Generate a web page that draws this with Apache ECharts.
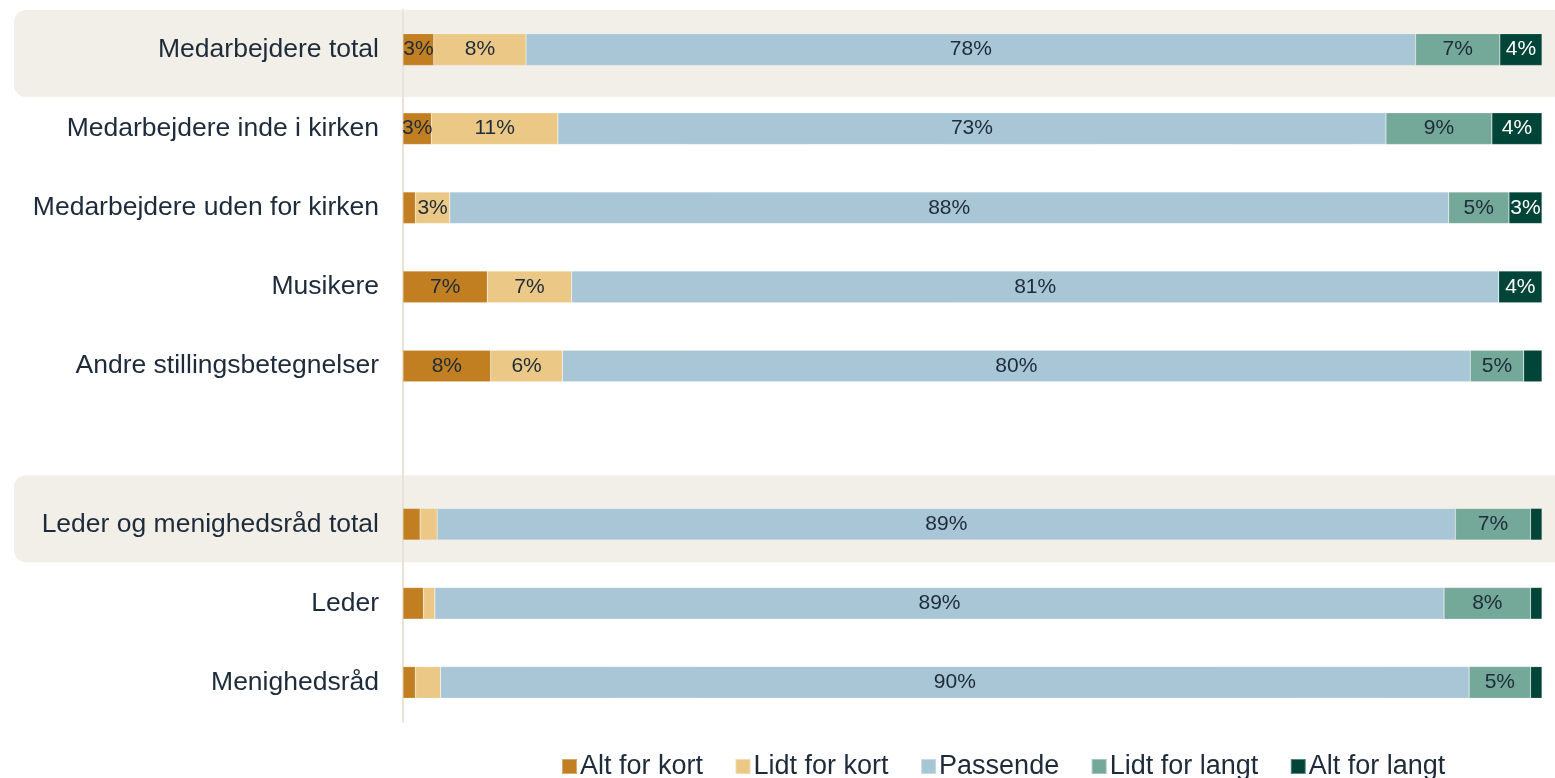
<!DOCTYPE html>
<html>
<head>
<meta charset="utf-8">
<script src="https://cdn.jsdelivr.net/npm/echarts@6/dist/echarts.min.js"></script>
<style>
  html, body { margin: 0; padding: 0; background: #fff; }
  #chart { width: 1555px; height: 778px; }
</style>
</head>
<body>
<div id="chart"></div>
<script>
// kategorier (tom række = mellemrum mellem grupperne)
const categories = [
  'Medarbejdere total',
  'Medarbejdere inde i kirken',
  'Medarbejdere uden for kirken',
  'Musikere',
  'Andre stillingsbetegnelser',
  ' ',
  'Leder og menighedsråd total',
  'Leder',
  'Menighedsråd'
];
const seriesNames = ['Alt for kort', 'Lidt for kort', 'Passende', 'Lidt for langt', 'Alt for langt'];

const altForKort   = [2.7, 2.5, 1.1, 7.4, 7.7, null, 1.5, 1.8, 1.1];
const lidtForKort  = [8.1, 11.1, 3.0, 7.4, 6.3, null, 1.5, 1.0, 2.2];
const passende     = [78.1, 72.7, 87.7, 81.4, 79.7, null, 89.4, 88.6, 90.3];
const lidtForLangt = [7.4, 9.3, 5.3, 0, 4.7, null, 6.6, 7.6, 5.4];
const altForLangt  = [3.7, 4.4, 2.9, 3.8, 1.6, null, 1.0, 1.0, 1.0];

const values = [altForKort, lidtForKort, passende, lidtForLangt, altForLangt];
const colors = ['#c17f22', '#ebc885', '#a8c6d6', '#74a899', '#004538'];
const labelColors = ['#1d2b3a', '#1d2b3a', '#1d2b3a', '#1d2b3a', '#ffffff'];

// rækker med baggrundsfelt
const highlighted = [
  { name: 'Medarbejdere total', above: 39.5, below: 47.5 },
  { name: 'Leder og menighedsråd total', above: 49, below: 38 }
];

const chart = echarts.init(document.getElementById('chart'));

const option = {
  animation: false,
  textStyle: { fontFamily: 'Liberation Sans, Arial, sans-serif' },
  grid: { left: 403, right: 13, top: 10, bottom: 56, containLabel: false },
  xAxis: {
    type: 'value', min: 0, max: 100,
    show: false
  },
  yAxis: {
    type: 'category',
    data: categories,
    inverse: true,
    axisTick: { show: false },
    axisLine: { show: true, lineStyle: { color: '#e8e2d8', width: 2 } },
    axisLabel: { color: '#1d2b3a', fontSize: 26.5, margin: 24 },
    splitLine: { show: false }
  },
  legend: {
    left: 556,
    bottom: -7,
    itemWidth: 15,
    itemHeight: 15,
    itemGap: 31.5,
    icon: 'rect',
    textStyle: { color: '#1d2b3a', fontSize: 27, padding: [0, 0, 0, -2] },
    data: seriesNames
  },
  series: seriesNames.map((name, i) => ({
    name: name,
    type: 'bar',
    stack: 'total',
    barWidth: '40%',
    data: values[i],
    itemStyle: { color: colors[i], borderColor: 'rgba(255,255,255,0.35)', borderWidth: 0.5 },
    label: {
      show: true,
      position: 'inside',
      color: labelColors[i],
      fontSize: 21,
      formatter: p => (p.value != null && p.value >= 2.4) ? Math.round(p.value) + '%' : ''
    }
  }))
};

chart.setOption(option);

function drawBands() {
  const w = chart.getWidth();
  const rects = highlighted.map(h => {
    const cy = chart.convertToPixel({ yAxisIndex: 0 }, h.name);
    return {
      type: 'rect',
      z: -10,
      silent: true,
      shape: { x: 14, y: cy - h.above, width: w - 14 + 20, height: h.above + h.below, r: 12 },
      style: { fill: '#f2efe8' }
    };
  });
  chart.setOption({ graphic: rects });
}
drawBands();
</script>
</body>
</html>
